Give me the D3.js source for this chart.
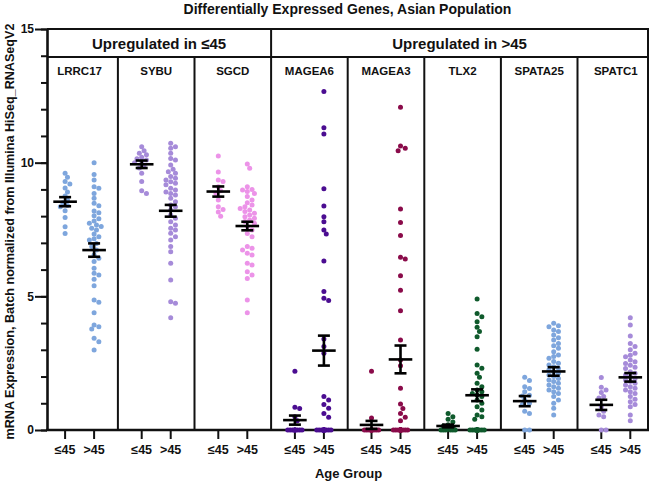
<!DOCTYPE html>
<html>
<head>
<meta charset="utf-8">
<script src="https://cdn.jsdelivr.net/npm/d3@7"></script>
<style>
  html, body { margin: 0; padding: 0; background: #fff; }
  svg { display: block; }
  text { font-family: "Liberation Sans", Arial, Helvetica, sans-serif; font-weight: bold; fill: #111; }
</style>
</head>
<body>
<div id="chart"></div>
<script>
var genes = ["LRRC17", "SYBU", "SGCD", "MAGEA6", "MAGEA3", "TLX2", "SPATA25", "SPATC1"];
var ageGroups = ["\u226445", ">45"];
var sections = ["Upregulated in \u226445", "Upregulated in >45"];
var sectionGenes = [["LRRC17", "SYBU", "SGCD"], ["MAGEA6", "MAGEA3", "TLX2", "SPATA25", "SPATC1"]];
var geneColors = ["#7ea6dd", "#a68bd9", "#ec93e8", "#4b0d91", "#8a0b4a", "#0f5a2c", "#7ea6dd", "#a68bd9"];
var yTicks = [0, 5, 10, 15];

// expression values, <=45 group
var youngValues = [
  [9.6, 9.45, 9.3, 9.2, 9.05, 8.9, 8.75, 8.6, 8.5, 8.4, 8.35, 8.2, 7.95, 7.6, 7.35],
  [10.6, 10.45, 10.35, 10.3, 10.2, 10.15, 10.1, 10.05, 10.0, 9.9, 9.8, 9.6, 9.3, 8.95, 8.85],
  [10.25, 9.65, 9.35, 9.3, 9.1, 8.95, 8.85, 8.6, 8.35, 8.25, 8.15, 8.0],
  [2.2, 0.85, 0.8, 0.5, 0.35, 0, 0, 0, 0, 0, 0, 0, 0, 0, 0],
  [2.2, 0.45, 0, 0, 0, 0, 0, 0, 0, 0, 0, 0, 0, 0],
  [0.62, 0.5, 0.4, 0.3, 0.2, 0.15, 0.1, 0.05, 0, 0, 0, 0, 0, 0],
  [1.97, 1.85, 1.62, 1.55, 1.43, 1.3, 1.27, 1.12, 1.0, 0.95, 0.7, 0.62, 0, 0],
  [1.96, 1.6, 1.5, 1.4, 1.25, 1.2, 0.87, 0.7, 0.56, 0.5, 0, 0]
];

// expression values, >45 group
var oldValues = [
  [10.0, 9.56, 9.35, 9.1, 9.04, 8.85, 8.67, 8.48, 8.39, 8.19, 8.13, 8.01, 7.9, 7.82, 7.73, 7.67, 7.61, 7.55, 7.48, 7.33, 7.23, 7.15, 7.11, 6.98, 6.86, 6.73, 6.55, 6.42, 6.3, 6.05, 5.86, 5.8, 5.64, 5.4, 4.86, 4.78, 4.39, 3.93, 3.86, 3.78, 3.43, 3.3, 2.99],
  [10.73, 10.6, 10.54, 10.35, 10.16, 10.1, 9.91, 9.75, 9.66, 9.6, 9.48, 9.42, 9.35, 9.29, 9.23, 9.17, 9.04, 8.98, 8.9, 8.85, 8.79, 8.67, 8.54, 8.42, 8.35, 8.23, 8.04, 7.92, 7.79, 7.67, 7.55, 7.48, 7.36, 7.23, 7.11, 6.86, 6.67, 6.24, 5.61, 4.8, 4.74, 4.2],
  [9.95, 9.79, 9.1, 9.0, 8.98, 8.92, 8.85, 8.73, 8.6, 8.5, 8.42, 8.35, 8.29, 8.23, 8.17, 8.11, 8.04, 7.98, 7.92, 7.86, 7.8, 7.73, 7.61, 7.48, 7.35, 7.23, 6.86, 6.8, 6.73, 6.61, 6.55, 6.24, 6.17, 5.92, 5.8, 5.67, 4.86, 4.39],
  [12.66, 11.31, 11.07, 9.02, 8.38, 7.98, 7.79, 7.48, 7.33, 6.32, 5.18, 4.93, 4.84, 3.4, 3.12, 2.87, 1.25, 1.12, 0.95, 0.81, 0.62, 0.48, 0, 0, 0, 0, 0, 0, 0, 0, 0, 0, 0, 0, 0, 0, 0, 0, 0, 0],
  [12.07, 10.62, 10.54, 10.45, 8.27, 7.76, 7.28, 6.46, 6.4, 5.77, 5.23, 4.46, 3.37, 2.62, 2.4, 1.56, 0.97, 0.8, 0.62, 0.48, 0.35, 0, 0, 0, 0, 0, 0, 0, 0, 0, 0, 0, 0, 0, 0, 0, 0, 0, 0, 0, 0],
  [4.9, 4.36, 4.24, 4.05, 3.84, 3.68, 3.49, 3.02, 2.43, 2.31, 2.12, 1.97, 1.75, 1.62, 1.5, 1.43, 1.37, 1.31, 1.25, 1.12, 1.0, 0.87, 0.75, 0.56, 0.5, 0.4, 0, 0, 0, 0, 0, 0, 0, 0, 0, 0, 0, 0, 0, 0, 0, 0, 0, 0, 0, 0],
  [3.99, 3.9, 3.86, 3.74, 3.68, 3.55, 3.45, 3.37, 3.24, 3.15, 3.06, 2.93, 2.81, 2.75, 2.68, 2.56, 2.5, 2.43, 2.37, 2.31, 2.25, 2.18, 2.12, 2.06, 2.0, 1.93, 1.87, 1.81, 1.75, 1.68, 1.62, 1.56, 1.5, 1.43, 1.37, 1.25, 1.12, 1.0, 0.81, 0.56],
  [4.2, 3.93, 3.52, 3.24, 3.12, 3.0, 2.87, 2.8, 2.74, 2.62, 2.55, 2.49, 2.42, 2.35, 2.3, 2.18, 2.12, 2.06, 2.0, 1.93, 1.87, 1.81, 1.75, 1.68, 1.62, 1.56, 1.5, 1.43, 1.37, 1.25, 1.15, 1.06, 0.95, 0.87, 0.56, 0.35]
];

// mean and SEM
var youngMean = [8.54, 9.94, 8.92, 0.37, 0.19, 0.15, 1.08, 0.94];
var youngSem = [0.17, 0.14, 0.19, 0.17, 0.15, 0.05, 0.19, 0.19];
var oldMean = [6.73, 8.2, 7.63, 2.97, 2.64, 1.30, 2.19, 1.97];
var oldSem = [0.25, 0.22, 0.16, 0.56, 0.52, 0.22, 0.16, 0.16];
</script>
<script>
var W = 652, H = 483;
var plotL = 47, plotR = 648, plotT = 29, plotB = 430, headerB = 57;
var dotR = 2.5;

var svg = d3.select('#chart').append('svg')
    .attr('width', W)
    .attr('height', H);

var y = d3.scaleLinear().domain([0, 15]).range([plotB, plotT]);
var xGene = d3.scaleBand().domain(genes).range([41.3, 654.1]).paddingInner(0).paddingOuter(0);
var xAge = d3.scalePoint().domain(ageGroups)
    .range([xGene.bandwidth() / 2 - 14.5, xGene.bandwidth() / 2 + 14.5]);

function xPos(gene, age) {
    return xGene(gene) + xAge(age);
}

// simple beeswarm: spread close values sideways, capped width
function swarm(values, r, maxSpread) {
    var step = r * 0.95;
    var offsets = [0];
    for (var k = 1; k * step <= maxSpread; k++) {
        offsets.push(k * step, -k * step);
    }
    var placed = [];
    var sorted = values.slice().sort(function (a, b) { return b - a; });
    sorted.forEach(function (v) {
        var py = y(v);
        var best = null, bestD = -1;
        for (var j = 0; j < offsets.length; j++) {
            var minD = Infinity;
            placed.forEach(function (p) {
                var d = Math.hypot(p.dx - offsets[j], p.py - py);
                if (d < minD) minD = d;
            });
            if (minD >= 2 * r * 0.92) { best = offsets[j]; break; }
            if (minD > bestD) { bestD = minD; best = offsets[j]; }
        }
        placed.push({ v: v, py: py, dx: best });
    });
    return placed;
}

var groups = [];
genes.forEach(function (g, i) {
    groups.push({ gene: g, age: ageGroups[0], color: geneColors[i], values: youngValues[i], mean: youngMean[i], sem: youngSem[i] });
    groups.push({ gene: g, age: ageGroups[1], color: geneColors[i], values: oldValues[i], mean: oldMean[i], sem: oldSem[i] });
});

// title
svg.append('text')
    .attr('x', 347.5)
    .attr('y', 14)
    .attr('text-anchor', 'middle')
    .style('font-size', '14px')
    .text('Differentially Expressed Genes, Asian Population');

// frame and panel dividers
var frame = svg.append('g').attr('stroke', '#111').attr('fill', 'none');
frame.append('line').attr('x1', plotL).attr('x2', plotR + 1).attr('y1', plotT).attr('y2', plotT).attr('stroke-width', 2.2);
frame.append('line').attr('x1', plotL).attr('x2', plotR).attr('y1', headerB).attr('y2', headerB).attr('stroke-width', 2);
frame.append('line').attr('x1', plotR).attr('x2', plotR).attr('y1', plotT).attr('y2', plotB).attr('stroke-width', 2);

genes.slice(1).forEach(function (g) {
    var isSection = sectionGenes[1][0] === g;
    frame.append('line')
        .attr('x1', xGene(g)).attr('x2', xGene(g))
        .attr('y1', isSection ? plotT : headerB)
        .attr('y2', plotB)
        .attr('stroke-width', 2);
});

// section headers
sectionGenes.forEach(function (list, i) {
    var x0 = i === 0 ? plotL : xGene(list[0]);
    var x1 = i === sectionGenes.length - 1 ? plotR : xGene(list[list.length - 1]) + xGene.bandwidth();
    svg.append('text')
        .attr('x', (x0 + x1) / 2)
        .attr('y', 48.5)
        .attr('text-anchor', 'middle')
        .style('font-size', '15px')
        .text(sections[i]);
});

// gene labels
svg.selectAll('.gene-label')
    .data(genes)
    .enter().append('text')
    .attr('class', 'gene-label')
    .attr('x', function (d) { return xGene(d) + xGene.bandwidth() / 2; })
    .attr('y', 74.5)
    .attr('text-anchor', 'middle')
    .style('font-size', '11.5px')
    .text(function (d) { return d; });

// y axis: minor then major ticks
var minorAxis = svg.append('g')
    .attr('transform', 'translate(' + plotL + ',0)')
    .call(d3.axisLeft(y).tickValues(d3.range(0, 16)).tickSize(6).tickSizeOuter(0).tickFormat(''));
minorAxis.select('.domain').remove();
minorAxis.selectAll('line').attr('stroke', '#111').attr('stroke-width', 2);

var yAxis = svg.append('g')
    .attr('transform', 'translate(' + plotL + ',0)')
    .call(d3.axisLeft(y).tickValues(yTicks).tickSize(12).tickSizeOuter(0).tickPadding(1));
yAxis.select('.domain').attr('stroke', '#111').attr('stroke-width', 2.6);
yAxis.selectAll('line').attr('stroke', '#111').attr('stroke-width', 2);
yAxis.selectAll('text')
    .style('font-size', '12px')
    .style('font-family', '"Liberation Sans", Arial, sans-serif')
    .style('font-weight', 'bold')
    .attr('fill', '#111');

// x axis
svg.append('line')
    .attr('x1', plotL - 1).attr('x2', plotR + 1)
    .attr('y1', plotB).attr('y2', plotB)
    .attr('stroke', '#111').attr('stroke-width', 2.6);

var xt = svg.append('g');
groups.forEach(function (grp) {
    var cx = xPos(grp.gene, grp.age);
    xt.append('line')
        .attr('x1', cx).attr('x2', cx)
        .attr('y1', plotB).attr('y2', plotB + 9)
        .attr('stroke', '#111').attr('stroke-width', 2);
    xt.append('text')
        .attr('x', cx)
        .attr('y', 454)
        .attr('text-anchor', 'middle')
        .style('font-size', '12.5px')
        .text(grp.age);
});

// points, drawn over the axis line like the original
var pts = svg.append('g').attr('class', 'points');
groups.forEach(function (grp) {
    var cx = xPos(grp.gene, grp.age);
    pts.selectAll(null)
        .data(swarm(grp.values, dotR, 8))
        .enter().append('circle')
        .attr('cx', function (d) { return cx + d.dx; })
        .attr('cy', function (d) { return d.py; })
        .attr('r', dotR)
        .attr('fill', grp.color);
});

// mean +/- SEM
var bars = svg.append('g').attr('stroke', '#000').attr('stroke-width', 2.6).attr('fill', 'none');
groups.forEach(function (grp) {
    var cx = xPos(grp.gene, grp.age);
    var yHi = y(grp.mean + grp.sem), yLo = y(Math.max(0, grp.mean - grp.sem)), yM = y(grp.mean);
    bars.append('line').attr('x1', cx - 11.8).attr('x2', cx + 11.8).attr('y1', yM).attr('y2', yM);
    bars.append('line').attr('x1', cx).attr('x2', cx).attr('y1', yHi).attr('y2', yLo);
    bars.append('line').attr('x1', cx - 6).attr('x2', cx + 6).attr('y1', yHi).attr('y2', yHi);
    bars.append('line').attr('x1', cx - 6).attr('x2', cx + 6).attr('y1', yLo).attr('y2', yLo);
});

svg.append('text')
    .attr('x', 348.5)
    .attr('y', 477.5)
    .attr('text-anchor', 'middle')
    .style('font-size', '13px')
    .text('Age Group');

svg.append('text')
    .attr('transform', 'translate(14,231.5) rotate(-90)')
    .attr('text-anchor', 'middle')
    .style('font-size', '12.6px')
    .text('mRNA Expression, Batch normalized from Illumina HiSeq_RNASeqV2');
</script>
</body>
</html>
